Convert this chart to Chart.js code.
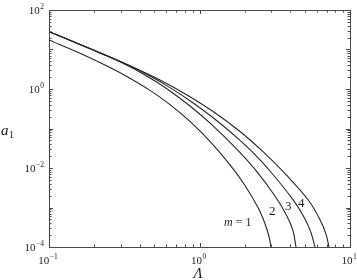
<!DOCTYPE html>
<html>
<head>
<meta charset="utf-8">
<script src="https://cdn.jsdelivr.net/npm/chart.js@4/dist/chart.umd.min.js"></script>
<style>
html,body{margin:0;padding:0;background:#fff;}
canvas{display:block;}
</style>
</head>
<body>
<canvas id="c" width="357" height="280"></canvas>
<script>
// ---- data ----
const lambda_m1 = [0.1, 0.1607, 0.2466, 0.3452, 0.4690, 0.6368, 0.8648, 1.1743, 1.5950, 2.0060, 2.4480, 2.7240, 2.8965, 2.9865];
const a1_m1     = [17.40, 8.013, 3.712, 1.877, 0.9216, 0.4028, 0.1512, 0.04715, 0.01205, 0.003606, 0.0009942, 0.0003890, 0.0001844, 0.0001];

const lambda_m2 = [0.1, 0.1607, 0.2355, 0.3199, 0.4343, 0.5900, 0.8648, 1.2108, 1.7754, 2.4110, 3.2231, 3.8148, 4.1811, 4.3770];
const a1_m2     = [28.22, 13.46, 7.194, 4.208, 2.268, 1.088, 0.3701, 0.1230, 0.02949, 0.007989, 0.001791, 0.0006020, 0.0002602, 0.0001];

const lambda_m3 = [0.1, 0.1607, 0.2542, 0.3452, 0.4690, 0.6368, 0.8648, 1.2677, 1.8586, 2.2336, 2.9408, 4.1811, 5.0234, 5.5078, 5.8546];
const a1_m3     = [28.22, 13.46, 6.459, 3.822, 2.134, 1.085, 0.5027, 0.1710, 0.05027, 0.02586, 0.008395, 0.001576, 0.0005145, 0.0002301, 0.0001];

const lambda_m4 = [0.1, 0.1607, 0.2542, 0.3727, 0.5464, 0.7889, 1.2108, 1.8586, 2.6418, 3.8148, 5.3420, 6.3198, 6.9263, 7.2530];
const a1_m4     = [28.22, 13.46, 6.459, 3.401, 1.690, 0.7829, 0.2806, 0.08395, 0.02586, 0.006385, 0.001461, 0.0004911, 0.0002121, 0.0001];

const xTickExps = [-1, 0, 1];        // labels 10^-1, 10^0, 10^1
const yTickExps = [2, 0, -2, -4];    // labels 10^2, 10^0, 10^-2, 10^-4
const curveLabels = ["m = 1", "2", "3", "4"];
const xTitle = "Λ";
const yTitle = "a";
const yTitleSub = "1";

const X_MIN = 0.1, X_MAX = 10, Y_MIN = 1e-4, Y_MAX = 100;

function pts(xs, ys){ return xs.map((x,i)=>({x:x, y:ys[i]})); }

const lineColor = '#262626';
function ds(xs, ys){
  return {data: pts(xs, ys), showLine:true, borderColor:lineColor, borderWidth:1.1,
          pointRadius:0, fill:false, tension:0.35};
}

const SERIF = '"Liberation Serif", "DejaVu Serif", serif';

function sup(n){
  return String(n).replace('-', '\u2212');
}

const framePlugin = {
  id:'frame',
  afterDatasetsDraw(chart){
    const ctx = chart.ctx, a = chart.chartArea;
    const xs = chart.scales.x, ys = chart.scales.y;
    ctx.save();
    // frame
    ctx.strokeStyle = '#4a4a4a';
    ctx.lineWidth = 1;
    ctx.strokeRect(Math.round(a.left)+0.5, Math.round(a.top)+0.5,
                   Math.round(a.right-a.left), Math.round(a.bottom-a.top));
    // ticks
    ctx.beginPath();
    for (let d=-1; d<=0; d++){
      for (let k=1; k<=9; k++){
        const v = k*Math.pow(10,d);
        const px = Math.round(xs.getPixelForValue(v))+0.5;
        const len = k===1 ? 4 : 2.5;
        ctx.moveTo(px, a.bottom); ctx.lineTo(px, a.bottom-len);
        ctx.moveTo(px, a.top); ctx.lineTo(px, a.top+len);
      }
    }
    for (let d=-4; d<=1; d++){
      for (let k=1; k<=9; k++){
        const v = k*Math.pow(10,d);
        const py = Math.round(ys.getPixelForValue(v))+0.5;
        const len = k===1 ? 4 : 2.5;
        ctx.moveTo(a.left, py); ctx.lineTo(a.left+len, py);
        ctx.moveTo(a.right, py); ctx.lineTo(a.right-len, py);
      }
    }
    ctx.stroke();

    ctx.fillStyle = '#1e1e1e';
    ctx.textBaseline = 'alphabetic';
    const bigF = '11px ' + SERIF, supF = '7.5px ' + SERIF;
    function label(exp, x, y, align){
      ctx.font = bigF; const wb = ctx.measureText('10').width;
      ctx.font = supF; const es = sup(exp); const we = ctx.measureText(es).width;
      const w = wb + we + 0.5;
      let x0 = align==='center' ? x - w/2 : x - w;
      ctx.font = bigF; ctx.textAlign='left';
      ctx.fillText('10', x0, y);
      ctx.font = supF;
      ctx.fillText(es, x0 + wb + 0.5, y - 5.5);
    }
    xTickExps.forEach(e=>{
      const px = xs.getPixelForValue(Math.pow(10,e));
      label(e, px-1, a.bottom+17, 'center');
    });
    yTickExps.forEach(e=>{
      const py = ys.getPixelForValue(Math.pow(10,e));
      label(e, a.left-5, py+4, 'right');
    });

    // axis titles
    ctx.font = 'italic 15px ' + SERIF;
    ctx.textAlign = 'center';
    ctx.fillText(xTitle, 198, 278);
    ctx.textAlign = 'left';
    ctx.font = 'italic 15px ' + SERIF;
    ctx.fillText(yTitle, 1, 135);
    const wa = ctx.measureText(yTitle).width;
    ctx.font = '10px ' + SERIF;
    ctx.fillText(yTitleSub, 1+wa+0.5, 138);

    // curve labels
    ctx.textAlign = 'left';
    ctx.font = 'italic 12px ' + SERIF;
    ctx.fillText('m', 224, 226);
    const wm = ctx.measureText('m').width;
    ctx.font = '12px ' + SERIF;
    ctx.fillText(curveLabels[0].slice(1), 224+wm, 226);
    ctx.font = '13px ' + SERIF;
    ctx.fillText(curveLabels[1], 269, 215);
    ctx.fillText(curveLabels[2], 285, 210);
    ctx.fillText(curveLabels[3], 298, 207);
    ctx.restore();
  }
};

new Chart(document.getElementById('c'), {
  type:'scatter',
  data:{ datasets:[ ds(lambda_m1,a1_m1), ds(lambda_m2,a1_m2), ds(lambda_m3,a1_m3), ds(lambda_m4,a1_m4) ] },
  options:{
    responsive:false, animation:false, devicePixelRatio:1,
    layout:{ padding:{ left:49, top:10, right:7, bottom:33 } },
    plugins:{ legend:{display:false}, tooltip:{enabled:false} },
    scales:{
      x:{ type:'logarithmic', min:X_MIN, max:X_MAX, display:false },
      y:{ type:'logarithmic', min:Y_MIN, max:Y_MAX, display:false }
    }
  },
  plugins:[framePlugin]
});
</script>
</body>
</html>
